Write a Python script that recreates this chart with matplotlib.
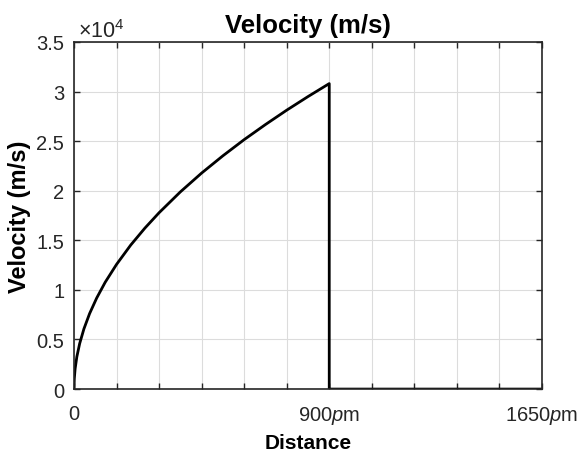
import matplotlib.pyplot as plt
from matplotlib.ticker import FuncFormatter

# Distance (pm) and velocity (m/s)
distance = [0, 1, 4, 10, 20, 35, 55, 80, 110, 150, 200, 250, 300, 375,
            450, 525, 600, 675, 750, 825, 900, 900, 1650]
velocity = [0, 1030, 2050, 3250, 4590, 6070, 7610, 9180, 10770, 12570,
            14520, 16230, 17780, 19880, 21780, 23520, 25150, 26670, 28120,
            29490, 30800, 0, 0]

x_ticks = list(range(0, 1651, 150))
x_labels = {0: "0", 900: "900$\\mathit{p}$m", 1650: "1650$\\mathit{p}$m"}
y_ticks = [0, 5000, 10000, 15000, 20000, 25000, 30000, 35000]

plt.rcParams["font.family"] = "Liberation Sans"
plt.rcParams["mathtext.fontset"] = "custom"
plt.rcParams["mathtext.rm"] = "Liberation Sans"
plt.rcParams["mathtext.it"] = "Liberation Sans:italic"

axis_color = "#262626"

fig = plt.figure(figsize=(5.84, 4.52), dpi=100)
ax = fig.add_axes([0.1267, 0.137, 0.8013, 0.768])

ax.plot(distance, velocity, color="black", linewidth=2)

ax.set_xlim(0, 1650)
ax.set_ylim(0, 35000)
ax.set_xticks(x_ticks)
ax.set_xticklabels([x_labels.get(t, "") for t in x_ticks])
ax.set_yticks(y_ticks)
ax.yaxis.set_major_formatter(FuncFormatter(lambda v, pos: f"{v / 1e4:g}"))

ax.grid(True, color="#dcdcdc", linewidth=0.8)
ax.set_axisbelow(True)
ax.tick_params(direction="in", top=True, right=True, length=4, width=1,
               labelsize=14.5, colors=axis_color)
ax.tick_params(axis="x", pad=11)
ax.tick_params(axis="y", pad=7)
for spine in ax.spines.values():
    spine.set_color(axis_color)
    spine.set_linewidth(1.2)

ax.annotate("$\\times10^4$", xy=(0, 1), xycoords="axes fraction",
            xytext=(3, 3.5), textcoords="offset points", fontsize=15.5,
            color=axis_color, ha="left", va="baseline")

ax.set_title("Velocity (m/s)", fontsize=18.5, fontweight="bold", pad=7)
ax.set_xlabel("Distance", fontsize=15, fontweight="bold", labelpad=5)
ax.set_ylabel("Velocity (m/s)", fontsize=17, fontweight="bold", labelpad=4)

fig.savefig("out.png", dpi=100)
